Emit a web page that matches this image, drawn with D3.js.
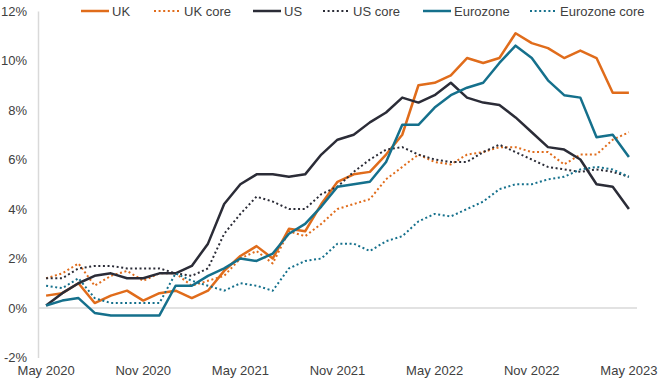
<!DOCTYPE html>
<html>
<head>
<meta charset="utf-8">
<script src="https://cdn.jsdelivr.net/npm/d3@7"></script>
<style>
  html, body { margin: 0; padding: 0; background: #fff; }
  svg { display: block; font-family: "Liberation Sans", Arial, sans-serif; }
</style>
</head>
<body>
<svg id="chart" width="660" height="383"></svg>
<script>
const months = [
  "May 2020","Jun 2020","Jul 2020","Aug 2020","Sep 2020","Oct 2020","Nov 2020","Dec 2020",
  "Jan 2021","Feb 2021","Mar 2021","Apr 2021","May 2021","Jun 2021","Jul 2021","Aug 2021",
  "Sep 2021","Oct 2021","Nov 2021","Dec 2021","Jan 2022","Feb 2022","Mar 2022","Apr 2022",
  "May 2022","Jun 2022","Jul 2022","Aug 2022","Sep 2022","Oct 2022","Nov 2022","Dec 2022",
  "Jan 2023","Feb 2023","Mar 2023","Apr 2023","May 2023"
];
const xTickLabels = ["May 2020","Nov 2020","May 2021","Nov 2021","May 2022","Nov 2022","May 2023"];
const yTicks = [-2, 0, 2, 4, 6, 8, 10, 12];
const yTickLabels = ["-2%","0%","2%","4%","6%","8%","10%","12%"];

const uk     = [0.5,0.6,1.0,0.2,0.5,0.7,0.3,0.6,0.7,0.4,0.7,1.5,2.1,2.5,2.0,3.2,3.1,4.2,5.1,5.4,5.5,6.2,7.0,9.0,9.1,9.4,10.1,9.9,10.1,11.1,10.7,10.5,10.1,10.4,10.1,8.7,8.7];
const ukCore = [1.2,1.4,1.8,0.9,1.3,1.5,1.1,1.4,1.4,0.9,1.1,1.3,2.0,2.3,1.8,3.1,2.9,3.4,4.0,4.2,4.4,5.2,5.7,6.2,5.9,5.8,6.2,6.3,6.5,6.5,6.3,6.3,5.8,6.2,6.2,6.8,7.1];
const us     = [0.1,0.6,1.0,1.3,1.4,1.2,1.2,1.4,1.4,1.7,2.6,4.2,5.0,5.4,5.4,5.3,5.4,6.2,6.8,7.0,7.5,7.9,8.5,8.3,8.6,9.1,8.5,8.3,8.2,7.7,7.1,6.5,6.4,6.0,5.0,4.9,4.0];
const usCore = [1.2,1.2,1.6,1.7,1.7,1.6,1.6,1.6,1.4,1.3,1.6,3.0,3.8,4.5,4.3,4.0,4.0,4.6,4.9,5.5,6.0,6.4,6.5,6.2,6.0,5.9,5.9,6.3,6.6,6.3,6.0,5.7,5.6,5.5,5.6,5.5,5.3];
const ez     = [0.1,0.3,0.4,-0.2,-0.3,-0.3,-0.3,-0.3,0.9,0.9,1.3,1.6,2.0,1.9,2.2,3.0,3.4,4.1,4.9,5.0,5.1,5.9,7.4,7.4,8.1,8.6,8.9,9.1,9.9,10.6,10.1,9.2,8.6,8.5,6.9,7.0,6.1];
const ezCore = [0.9,0.8,1.2,0.4,0.2,0.2,0.2,0.2,1.4,1.1,0.9,0.7,1.0,0.9,0.7,1.6,1.9,2.0,2.6,2.6,2.3,2.7,2.9,3.5,3.8,3.7,4.0,4.3,4.8,5.0,5.0,5.2,5.3,5.6,5.7,5.6,5.3];

const seriesNames = ["UK","UK core","US","US core","Eurozone","Eurozone core"];
const seriesValues = [uk, ukCore, us, usCore, ez, ezCore];
const seriesColors = ["#e06c1b","#e06c1b","#2b2c37","#2b2c37","#15708c","#15708c"];
const seriesDotted = [false,true,false,true,false,true];

const svg = d3.select("#chart");
const textColor = "#404040";

const x = d3.scaleBand().domain(months).range([38, 637]).padding(0);
const xc = d => x(d) + x.bandwidth() / 2;
const y = d3.scaleLinear().domain([-2, 12]).range([357.5, 11]);

// Y axis
const yAxis = d3.axisLeft(y).tickValues(yTicks).tickSize(0).tickPadding(11)
  .tickFormat((d, i) => yTickLabels[i]);
const yg = svg.append("g").attr("transform", "translate(38,0)").call(yAxis);
yg.select(".domain").attr("stroke", "#d9d9d9").attr("stroke-width", 1.5);
yg.selectAll("text").attr("fill", textColor).style("font-size", "13px")
  .style("font-family", "'Liberation Sans', Arial, sans-serif");

// zero line
svg.append("line")
  .attr("x1", 38).attr("x2", 637)
  .attr("y1", y(0)).attr("y2", y(0))
  .attr("stroke", "#d9d9d9").attr("stroke-width", 1.5);

// X axis
const xAxis = d3.axisBottom(x).tickValues(xTickLabels).tickSize(0).tickPadding(0);
const xg = svg.append("g").attr("transform", "translate(0,366)").call(xAxis);
xg.select(".domain").remove();
xg.selectAll("text").attr("fill", textColor).style("font-size", "13px")
  .style("font-family", "'Liberation Sans', Arial, sans-serif");

// lines
const line = d3.line().x((d, i) => xc(months[i])).y(d => y(d)).curve(d3.curveLinear);
seriesValues.forEach((vals, k) => {
  const p = svg.append("path")
    .datum(vals)
    .attr("d", line)
    .attr("fill", "none")
    .attr("stroke", seriesColors[k])
    .attr("stroke-linejoin", "round");
  if (seriesDotted[k]) {
    p.attr("stroke-width", 2).attr("stroke-dasharray", "2,2.6");
  } else {
    p.attr("stroke-width", 2.5);
  }
});

// legend
const legendX = [81, 154, 253, 323, 423, 530];
const legendY = 11;
seriesNames.forEach((name, k) => {
  const g = svg.append("g").attr("transform", `translate(${legendX[k]},${legendY})`);
  const dotted = seriesDotted[k];
  const len = dotted ? 26 : 28;
  g.append("line").attr("x1", 0).attr("x2", len).attr("y1", 0).attr("y2", 0)
    .attr("stroke", seriesColors[k])
    .attr("stroke-width", dotted ? 2 : 2.5)
    .attr("stroke-dasharray", dotted ? "2,2.6" : null);
  g.append("text").attr("x", dotted ? len + 4 : len + 3).attr("y", 0).attr("dy", "0.35em")
    .attr("fill", textColor).style("font-size", "13px").text(name);
});
</script>
</body>
</html>
